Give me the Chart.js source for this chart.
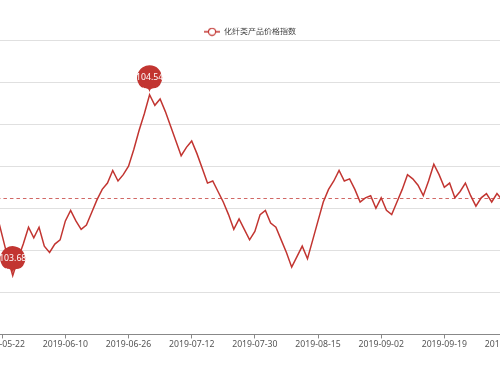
<!DOCTYPE html>
<html>
<head>
<meta charset="utf-8">
<script src="https://cdn.jsdelivr.net/npm/chart.js@4.4.1/dist/chart.umd.min.js"></script>
<style>
html,body{margin:0;padding:0;background:#fff;overflow:hidden;width:500px;height:375px;position:relative}
#c{position:absolute;left:-40px;top:0}
</style>
</head>
<body>
<canvas id="c" width="580" height="375"></canvas>
<script>
const seriesName = '化纤类产品价格指数';

const dates = [
'2019-05-21','2019-05-22','2019-05-23','2019-05-24','2019-05-27','2019-05-28','2019-05-29','2019-05-30','2019-05-31',
'2019-06-03','2019-06-04','2019-06-05','2019-06-06','2019-06-10','2019-06-11','2019-06-12','2019-06-13','2019-06-14',
'2019-06-17','2019-06-18','2019-06-19','2019-06-20','2019-06-21','2019-06-24','2019-06-25','2019-06-26','2019-06-27','2019-06-28',
'2019-07-01','2019-07-02','2019-07-03','2019-07-04','2019-07-05','2019-07-08','2019-07-09','2019-07-10','2019-07-11','2019-07-12',
'2019-07-15','2019-07-16','2019-07-17','2019-07-18','2019-07-19','2019-07-22','2019-07-23','2019-07-24','2019-07-25','2019-07-26',
'2019-07-29','2019-07-30','2019-07-31','2019-08-01','2019-08-02','2019-08-05','2019-08-06','2019-08-07','2019-08-08','2019-08-09',
'2019-08-12','2019-08-13','2019-08-14','2019-08-15','2019-08-16','2019-08-19','2019-08-20','2019-08-21','2019-08-22','2019-08-23',
'2019-08-26','2019-08-27','2019-08-28','2019-08-29','2019-08-30','2019-09-02','2019-09-03','2019-09-04','2019-09-05','2019-09-06',
'2019-09-09','2019-09-10','2019-09-11','2019-09-12','2019-09-16','2019-09-17','2019-09-18','2019-09-19','2019-09-20',
'2019-09-23','2019-09-24','2019-09-25','2019-09-26','2019-09-27','2019-09-30','2019-10-08','2019-10-09','2019-10-10','2019-10-11','2019-10-14'
];

const values = [
103.97, 103.87, 103.77, 103.68, 103.76, 103.83, 103.91, 103.86, 103.91,
103.82, 103.79, 103.83, 103.85, 103.94, 103.99, 103.94, 103.90, 103.92,
103.98, 104.04, 104.09, 104.12, 104.18, 104.13, 104.16, 104.20, 104.28, 104.37,
104.45, 104.54, 104.49, 104.52, 104.46, 104.39, 104.32, 104.25, 104.29, 104.32,
104.26, 104.19, 104.12, 104.13, 104.08, 104.03, 103.97, 103.90, 103.95, 103.90,
103.85, 103.89, 103.97, 103.99, 103.93, 103.91, 103.85, 103.79, 103.72, 103.77,
103.82, 103.76, 103.85, 103.94, 104.03, 104.09, 104.13, 104.18, 104.13, 104.14,
104.09, 104.03, 104.05, 104.06, 104.00, 104.05, 103.99, 103.97, 104.03, 104.09,
104.16, 104.14, 104.11, 104.06, 104.13, 104.21, 104.16, 104.10, 104.12,
104.05, 104.08, 104.12, 104.06, 104.01, 104.05, 104.07, 104.03, 104.07, 104.04, null
];

const xTickLabels = ['2019-05-22','2019-06-10','2019-06-26','2019-07-12','2019-07-30','2019-08-15','2019-09-02','2019-09-19','2019-10-14'];
const averageValue = [104.05];
const yMin = 103.4, yMax = 104.8, yStep = 0.2;

const RED = '#c23531';
const FONT = "'Noto Sans', 'Noto Sans CJK SC', sans-serif";

// legend icon: line with hollow circle
const legendIcon = document.createElement('canvas');
legendIcon.width = 16; legendIcon.height = 10;
(function(){
  const g = legendIcon.getContext('2d');
  g.strokeStyle = RED; g.lineWidth = 1.5;
  g.beginPath(); g.moveTo(0,5); g.lineTo(16,5); g.stroke();
  g.beginPath(); g.arc(8,5,3.6,0,Math.PI*2);
  g.fillStyle = '#fff'; g.fill();
  g.lineWidth = 1.2; g.stroke();
})();

const legendAdjust = {
  id: 'legendAdjust',
  afterLayout(chart) {
    const lg = chart.legend; if (!lg) return;
    const dx = chart.width / 2 - (lg.left + lg.right) / 2;
    lg.left += dx; lg.right += dx;
    lg.top += 5.6; lg.bottom += 5.6;
  }
};

function pinPath(ctx, x, y, w, h) {
  const r = w / 2;
  const dy = r * r / (h - r);
  const cy = y - h + r + dy;
  const angle = Math.asin(dy / r);
  const dx = Math.cos(angle) * r;
  const tanX = Math.sin(angle), tanY = Math.cos(angle);
  const cpLen = r * 0.6, cpLen2 = r * 0.7;
  ctx.beginPath();
  ctx.moveTo(x - dx, cy + dy);
  ctx.arc(x, cy, r, Math.PI - angle, Math.PI * 2 + angle);
  ctx.bezierCurveTo(x + dx - tanX * cpLen, cy + dy + tanY * cpLen, x, y - cpLen2, x, y);
  ctx.bezierCurveTo(x, y - cpLen2, x - dx + tanX * cpLen, cy + dy + tanY * cpLen, x - dx, cy + dy);
  ctx.closePath();
  return cy;
}

const marks = {
  id: 'marks',
  afterDatasetsDraw(chart) {
    const {ctx, chartArea, scales: {x, y}} = chart;
    ctx.save();
    // average line
    const ya = Math.round(y.getPixelForValue(averageValue[0])) + 0.5;
    ctx.strokeStyle = 'rgba(194,53,49,0.75)';
    ctx.lineWidth = 1;
    ctx.setLineDash([3.5, 3]);
    ctx.beginPath(); ctx.moveTo(chartArea.left, ya); ctx.lineTo(chartArea.right, ya); ctx.stroke();
    ctx.setLineDash([]);
    // max / min pins
    let iMax = -1, iMin = -1;
    values.forEach((v, i) => {
      if (v === null) return;
      if (iMax < 0 || v > values[iMax]) iMax = i;
      if (iMin < 0 || v < values[iMin]) iMin = i;
    });
    [iMax, iMin].forEach(i => {
      const px = x.getPixelForValue(i), py = y.getPixelForValue(values[i]) - 1;
      const cy = pinPath(ctx, px, py, 25, 35.3);
      ctx.fillStyle = RED; ctx.fill();
      ctx.fillStyle = '#fff';
      ctx.font = '8.7px ' + FONT;
      ctx.textAlign = 'center'; ctx.textBaseline = 'middle';
      ctx.fillText(values[i].toFixed(2), px, cy);
    });
    ctx.restore();
  }
};

new Chart(document.getElementById('c'), {
  type: 'line',
  data: {
    labels: dates,
    datasets: [{
      label: seriesName,
      data: values,
      borderColor: RED,
      backgroundColor: RED,
      borderWidth: 1.5,
      pointRadius: 0,
      pointHoverRadius: 0,
      tension: 0,
      fill: false
    }]
  },
  options: {
    responsive: false,
    animation: false,
    devicePixelRatio: 1,
    layout: { padding: { left: 36.94, right: 32.5, top: 22.1, bottom: 24.1 } },
    plugins: {
      legend: {
        display: true, position: 'top', align: 'center',
        labels: { usePointStyle: true, pointStyle: legendIcon, pointStyleWidth: 16, padding: 0,
                  color: '#444', font: { size: 8, family: FONT } }
      },
      tooltip: { enabled: false }
    },
    scales: {
      x: {
        type: 'category',
        offset: false,
        grid: { display: true, drawOnChartArea: false, drawTicks: true, tickLength: 4,
                color: '#888', tickColor: c => (c.tick && c.tick.label !== '') ? '#888' : 'rgba(0,0,0,0)' },
        border: { display: true, color: '#888', width: 1 },
        ticks: {
          autoSkip: false, maxRotation: 0, minRotation: 0, padding: 1,
          color: '#555', font: { size: 8.7, family: FONT },
          callback(value, index) { const l = dates[index]; return xTickLabels.includes(l) ? l : ''; }
        }
      },
      y: {
        min: yMin, max: yMax,
        ticks: { display: false, stepSize: yStep },
        grid: { drawTicks: false, lineWidth: 1, color: c => c.index === 0 ? 'rgba(0,0,0,0)' : '#e0e0e0' },
        border: { display: false }
      }
    }
  },
  plugins: [legendAdjust, marks]
});
</script>
</body>
</html>
